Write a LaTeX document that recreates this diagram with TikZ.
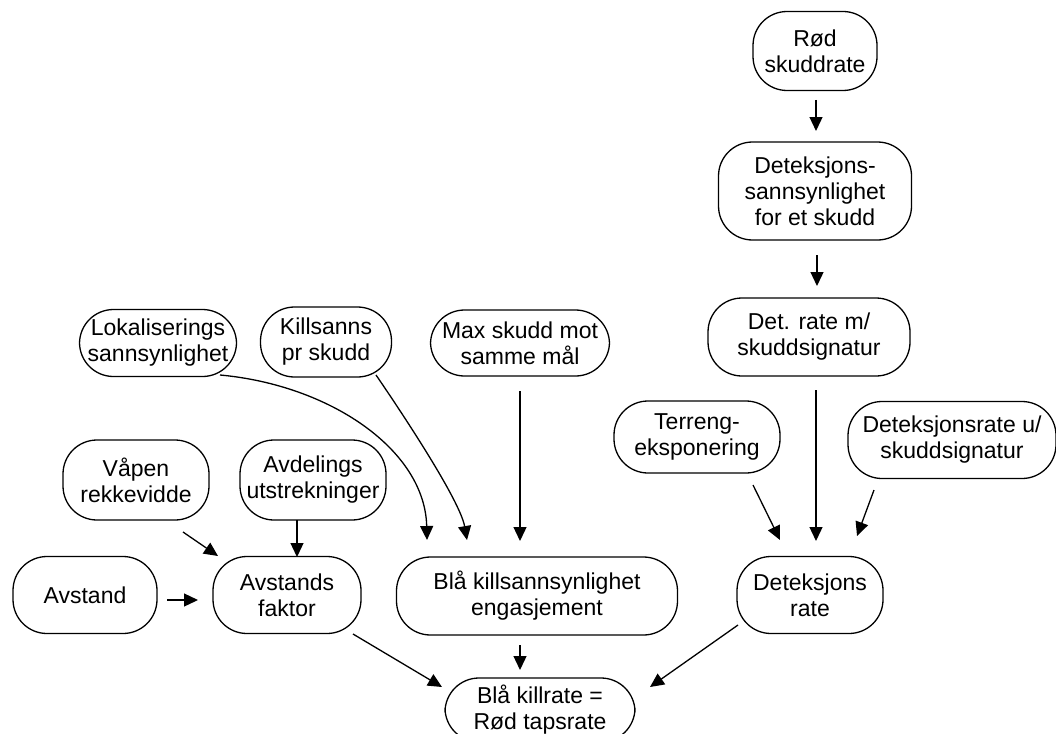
\documentclass[tikz,border=0pt]{standalone}
\usepackage{fontspec}
\setmainfont{Liberation Sans}
\usetikzlibrary{arrows.meta}

\begin{document}
\begin{tikzpicture}[x=1pt, y=1pt,
  boks/.style = {draw, line width=1.3pt, rounded corners=34pt, align=center, inner sep=0pt,
                 font=\fontsize{23}{26}\selectfont},
  pil/.style = {line width=1.3pt, -{Triangle[length=14pt,width=13pt]}}]
\clip (0,0) rectangle (1056,-733);
% right column
\node[boks, minimum width=124, minimum height=79] (rod) at (815,-51) {Rød\\skuddrate};
\node[boks, minimum width=193, minimum height=98] (detsann) at (815,-191) {Deteksjons-\\sannsynlighet\\for et skudd};
\node[boks, minimum width=202, minimum height=78] (detm) at (809,-337) {Det. rate m/\\skuddsignatur};
\node[boks, minimum width=166, minimum height=72] (terreng) at (697,-437) {Terreng-\\eksponering};
\node[boks, minimum width=208, minimum height=77] (detu) at (952,-440) {Deteksjonsrate u/\\skuddsignatur};
\node[boks, minimum width=146, minimum height=77] (detrate) at (810,-595) {Deteksjons\\rate};
% middle
\node[boks, minimum width=157, minimum height=67] (lok) at (158,-343) {Lokaliserings\\sannsynlighet};
\node[boks, minimum width=131, minimum height=70] (kill) at (326,-342) {Killsanns\\pr skudd};
\node[boks, minimum width=179, minimum height=66] (max) at (520,-343) {Max skudd mot\\samme mål};
\node[boks, minimum width=281, minimum height=78] (blaks) at (537,-596) {Blå killsannsynlighet\\engasjement};
% left
\node[boks, minimum width=146, minimum height=80] (vapen) at (136,-480) {Våpen\\rekkevidde};
\node[boks, minimum width=146, minimum height=80] (avdel) at (313,-480) {Avdelings\\utstrekninger};
\node[boks, minimum width=144, minimum height=77] (avstand) at (85,-595) {Avstand};
\node[boks, minimum width=148, minimum height=77] (avfakt) at (287,-595) {Avstands\\faktor};
% bottom
\node[boks, minimum width=190, minimum height=64] (blakr) at (540,-710) {Blå killrate =\\Rød tapsrate};

\draw[pil] ([shift={(1,-49)}]rod.center) -- ([shift={(1,60)}]detsann.center);
\draw[pil] ([shift={(2,-64)}]detsann.center) -- ([shift={(8,51)}]detm.center);
\draw[pil] ([shift={(7,-53)}]detm.center) -- ([shift={(6,54)}]detrate.center);
\draw[pil] ([shift={(56,-48)}]terreng.center) -- ([shift={(-30,55)}]detrate.center);
\draw[pil] ([shift={(-78,-50)}]detu.center) -- ([shift={(47,59)}]detrate.center);
\draw[pil] ([shift={(-72,-30)}]detrate.center) -- ([shift={(110,23)}]blakr.center);
\draw[pil] ([shift={(-17,-49)}]blaks.center) -- ([shift={(-20,40)}]blakr.center);
\draw[pil] ([shift={(66,-39)}]avfakt.center) -- ([shift={(-98,23)}]blakr.center);
\draw[pil] ([shift={(82,-5)}]avstand.center) -- ([shift={(-89,-5)}]avfakt.center);
\draw[pil] ([shift={(47,-52)}]vapen.center) -- ([shift={(-69,39)}]avfakt.center);
\draw[pil] ([shift={(-16,-40)}]avdel.center) -- ([shift={(10,38)}]avfakt.center);
\draw[pil] ([shift={(62,-32)}]lok.center) .. controls +(110,-10) and +(-2,90) .. ([shift={(-110,56)}]blaks.center);
\draw[pil] ([shift={(50,-33)}]kill.center) .. controls +(24,-35) and +(-7,40) .. ([shift={(-70,56)}]blaks.center);
\draw[pil] ([shift={(0,-48)}]max.center) -- ([shift={(-17,55)}]blaks.center);
\end{tikzpicture}
\end{document}
